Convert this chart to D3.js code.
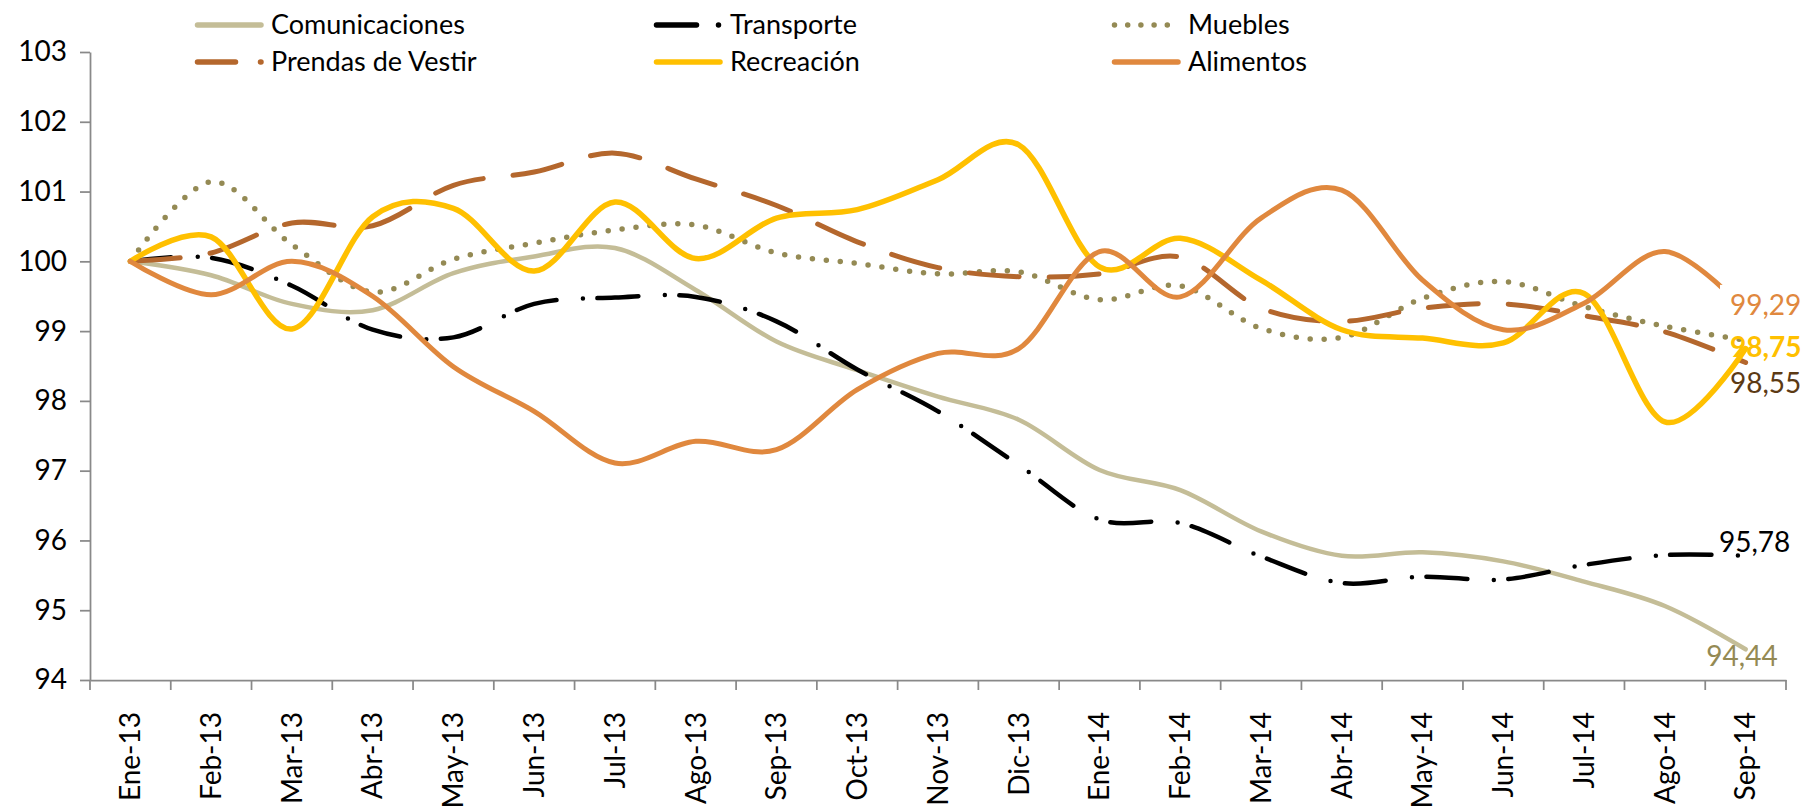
<!DOCTYPE html>
<html>
<head>
<meta charset="utf-8">
<script src="https://cdn.jsdelivr.net/npm/d3@7"></script>
<style>
body { margin: 0; background: #fff; }
text { font-family: Lato, 'Open Sans', sans-serif; }
</style>
</head>
<body>
<div class="chart"></div>
<script>
var months = ['Ene-13', 'Feb-13', 'Mar-13', 'Abr-13', 'May-13', 'Jun-13', 'Jul-13', 'Ago-13', 'Sep-13',
    'Oct-13', 'Nov-13', 'Dic-13', 'Ene-14', 'Feb-14', 'Mar-14', 'Abr-14', 'May-14', 'Jun-14', 'Jul-14',
    'Ago-14', 'Sep-14'];

var comunicaciones = [100, 99.80, 99.39, 99.30, 99.83, 100.07, 100.19, 99.59, 98.85, 98.44, 98.06, 97.73,
    97.01, 96.72, 96.13, 95.78, 95.83, 95.70, 95.41, 95.06, 94.44];
var transporte = [100, 100.05, 99.65, 99.02, 98.91, 99.39, 99.48, 99.49, 99.14, 98.45, 97.85, 97.08,
    96.30, 96.25, 95.77, 95.39, 95.48, 95.44, 95.65, 95.79, 95.78];
var muebles = [100, 101.14, 100.24, 99.56, 100.03, 100.26, 100.45, 100.52, 100.12, 99.97, 99.82, 99.85,
    99.45, 99.65, 99.04, 98.91, 99.47, 99.71, 99.35, 99.07, 98.87];
var prendas = [100, 100.12, 100.55, 100.51, 101.09, 101.28, 101.55, 101.18, 100.80, 100.28, 99.91, 99.78,
    99.82, 100.06, 99.33, 99.14, 99.33, 99.39, 99.22, 98.99, 98.55];
var recreacion = [100, 100.35, 99.03, 100.64, 100.76, 99.86, 100.85, 100.04, 100.62, 100.74, 101.17, 101.67,
    99.92, 100.33, 99.73, 99.02, 98.90, 98.83, 99.54, 97.70, 98.75];
var alimentos = [100, 99.52, 100.00, 99.50, 98.49, 97.85, 97.11, 97.42, 97.30, 98.16, 98.68, 98.75,
    100.14, 99.49, 100.62, 101.02, 99.73, 99.02, 99.40, 100.14, 99.29];

var yTicks = [94, 95, 96, 97, 98, 99, 100, 101, 102, 103];

var width = 1804, height = 807;
var margin = { top: 52, right: 18, bottom: 127, left: 90 };
var axisColor = '#898989';

// series styles, in legend order (row by row)
var series = [
    { name: 'Comunicaciones', values: comunicaciones, color: '#C4BD97', width: 4.5, dash: null, legendDash: null },
    { name: 'Transporte', values: transporte, color: '#000000', width: 4.5, dash: '41 26.5 0 14.5', legendDash: '40 22 0 20' },
    { name: 'Muebles', values: muebles, color: '#948A54', width: 5.5, dash: '0 14', legendDash: '0 13.2' },
    { name: 'Prendas de Vestir', values: prendas, color: '#B4672D', width: 5, dash: '50 30', legendDash: '38 25' },
    { name: 'Recreación', values: recreacion, color: '#FFC000', width: 5.5, dash: null, legendDash: null },
    { name: 'Alimentos', values: alimentos, color: '#E0883E', width: 5, dash: null, legendDash: null }
];

var svg = d3.select('.chart')
    .append('svg')
    .attr('width', width)
    .attr('height', height);

var xScale = d3.scaleBand()
    .domain(months)
    .range([margin.left, width - margin.right]);

var yScale = d3.scaleLinear()
    .domain([94, 103])
    .range([height - margin.bottom, margin.top]);

var xCenter = function (i) { return xScale(months[i]) + xScale.bandwidth() / 2; };
var bottom = height - margin.bottom;

// y axis
var yAxis = d3.axisLeft(yScale)
    .tickValues(yTicks)
    .tickFormat(d3.format('d'))
    .tickSize(10)
    .tickSizeOuter(0)
    .tickPadding(13);

var gy = svg.append('g')
    .attr('transform', 'translate(' + margin.left + ',0)')
    .call(yAxis);
gy.select('.domain').attr('stroke', axisColor).attr('stroke-width', 1.75);
gy.selectAll('.tick line').attr('stroke', axisColor).attr('stroke-width', 1.75);
gy.selectAll('.tick text')
    .attr('fill', '#000')
    .style('font-size', '28px')
    .style('font-family', 'Lato, sans-serif');

// x axis: labels at band centers, tick marks between categories
var xAxis = d3.axisBottom(xScale).tickSize(0).tickSizeOuter(0);
var gx = svg.append('g')
    .attr('transform', 'translate(0,' + bottom + ')')
    .call(xAxis);
gx.select('.domain').attr('stroke', axisColor).attr('stroke-width', 1.75);
gx.selectAll('.tick text')
    .attr('transform', 'rotate(-90)')
    .attr('x', -32)
    .attr('y', 0)
    .attr('dy', '0.35em')
    .attr('text-anchor', 'end')
    .attr('fill', '#000')
    .style('font-size', '28px')
    .style('font-family', 'Lato, sans-serif');

var boundaries = months.map(function (m) { return xScale(m); }).concat([xScale.range()[1]]);
gx.selectAll('.boundary')
    .data(boundaries)
    .enter()
    .append('line')
    .attr('class', 'boundary')
    .attr('x1', function (d) { return d; })
    .attr('x2', function (d) { return d; })
    .attr('y1', 0)
    .attr('y2', 10)
    .attr('stroke', axisColor)
    .attr('stroke-width', 1.75);

// lines
var line = d3.line()
    .x(function (d, i) { return xCenter(i); })
    .y(function (d) { return yScale(d); })
    .curve(d3.curveCatmullRom.alpha(0));

svg.selectAll('.series')
    .data(series)
    .enter()
    .append('path')
    .attr('class', 'series')
    .attr('d', function (s) { return line(s.values); })
    .attr('fill', 'none')
    .attr('stroke', function (s) { return s.color; })
    .attr('stroke-width', function (s) { return s.width; })
    .attr('stroke-linecap', 'round')
    .attr('stroke-linejoin', 'round')
    .attr('stroke-dasharray', function (s) { return s.dash; });

// data labels on the last point
var fmt = d3.formatLocale({ decimal: ',', thousands: '.', grouping: [3], currency: ['', ''] }).format('.2f');
var last = months.length - 1;
var labels = [
    { s: 5, color: '#E0883E', dx: -15.6, dy: -6, anchor: 'start', bold: false, box: true },
    { s: 4, color: '#FFC000', dx: -15.6, dy: -1, anchor: 'start', bold: true, box: false },
    { s: 3, color: '#5C3A14', dx: -15.6, dy: 20.5, anchor: 'start', bold: false, box: false },
    { s: 1, color: '#000000', dx: -26.6, dy: -14, anchor: 'start', bold: false, box: false },
    { s: 0, color: '#948A54', dx: -3.6, dy: 7, anchor: 'middle', bold: false, box: false }
];

labels.forEach(function (l) {
    var v = series[l.s].values[last];
    var x = xCenter(last) + l.dx, y = yScale(v) + l.dy;
    if (l.box) {
        svg.append('rect')
            .attr('x', x - 10).attr('y', y - 20)
            .attr('width', width - x + 10).attr('height', 40)
            .attr('fill', '#fff');
    }
    svg.append('text')
        .attr('x', x)
        .attr('y', y)
        .attr('dy', '0.35em')
        .attr('text-anchor', l.anchor)
        .attr('fill', l.color)
        .style('font-size', '28px')
        .style('font-weight', l.bold ? 'bold' : 'normal')
        .text(fmt(v));
});

// legend, 3 columns x 2 rows
var legendCols = [195, 654, 1112];
var legendRows = [25, 62];

var legend = svg.selectAll('.legend')
    .data(series)
    .enter()
    .append('g')
    .attr('class', 'legend')
    .attr('transform', function (s, i) {
        return 'translate(' + legendCols[i % 3] + ',' + legendRows[Math.floor(i / 3)] + ')';
    });

legend.append('line')
    .attr('x1', 2.5)
    .attr('x2', 66)
    .attr('y1', 0)
    .attr('y2', 0)
    .attr('stroke', function (s) { return s.color; })
    .attr('stroke-width', 5.5)
    .attr('stroke-linecap', 'round')
    .attr('stroke-dasharray', function (s) { return s.legendDash; });

legend.append('text')
    .attr('x', 76)
    .attr('y', 0)
    .attr('dy', '0.35em')
    .attr('fill', '#000')
    .style('font-size', '27px')
    .text(function (s) { return s.name; });
</script>
</body>
</html>
